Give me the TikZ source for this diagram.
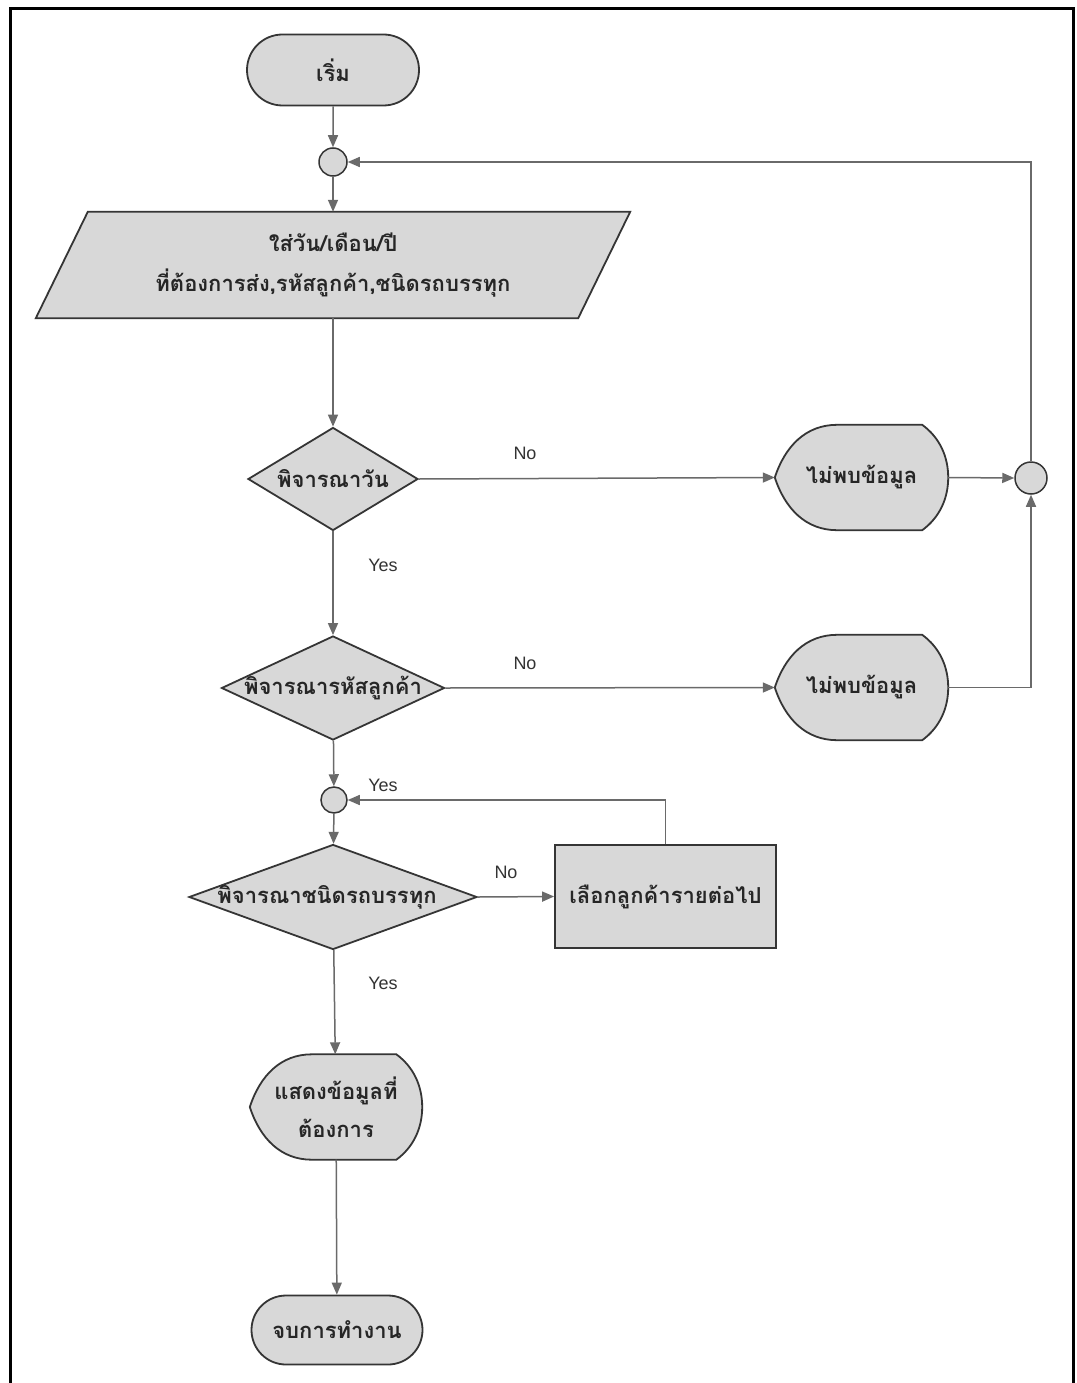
\documentclass[tikz,border=0pt]{standalone}
\usepackage{fontspec}
\newfontfamily\thaifont[Script=Thai]{Loma}
\setsansfont{Liberation Sans}
\usetikzlibrary{shapes.geometric,shapes.misc,arrows.meta,calc}
\pgfdeclarelayer{bg}
\pgfsetlayers{bg,main}

% fractional position inside a node box (used by the display shape)
\newcommand\fcx[1]{\x1+#1*(\x2-\x1)}
\newcommand\fcy[1]{0.5*\y1+0.5*\y2+#1*(\y1-\y2)}
% flowchart "display" outline drawn behind a named node
\newcommand\dispshape[1]{%
  \path[shapeframe] let \p1=(#1.north west), \p2=(#1.south east) in
    ({\x1},{\fcy{0}})
    .. controls ({\fcx{0.06}},{\fcy{0.30}}) and ({\fcx{0.18}},{\fcy{0.5}}) .. ({\fcx{0.36}},{\fcy{0.5}})
    -- ({\fcx{0.85}},{\fcy{0.5}})
    .. controls ({\fcx{0.95}},{\fcy{0.38}}) and ({\x2},{\fcy{0.2}}) .. ({\x2},{\fcy{0}})
    .. controls ({\x2},{\fcy{-0.2}}) and ({\fcx{0.95}},{\fcy{-0.38}}) .. ({\fcx{0.85}},{\fcy{-0.5}})
    -- ({\fcx{0.36}},{\fcy{-0.5}})
    .. controls ({\fcx{0.18}},{\fcy{-0.5}}) and ({\fcx{0.06}},{\fcy{-0.30}}) .. cycle;}

\definecolor{boxfill}{HTML}{D8D8D8}
\definecolor{boxline}{HTML}{353535}
\definecolor{wire}{HTML}{6A6A6A}

\tikzset{
  thai/.style={font=\thaifont\bfseries\fontsize{22}{26}\selectfont, text=black!85},
  shapeframe/.style={draw=boxline, fill=boxfill, line width=1.8pt},
  terminal/.style={shape=rounded rectangle, shapeframe, thai, inner sep=0pt},
  decision/.style={shape=diamond, shapeframe, inner sep=0pt},
  procbox/.style={shape=rectangle, shapeframe, thai, inner sep=0pt},
  joint/.style={shape=circle, shapeframe, line width=1.5pt, minimum size=28pt, inner sep=0pt},
  textbox/.style={shape=rectangle, draw=none, inner sep=0pt, thai, align=center},
  wirearrow/.style={draw=wire, line width=1.5pt, -{Triangle[length=12pt,width=10pt]}},
  yesno/.style={font=\sffamily\fontsize{18}{21}\selectfont, text=black!80},
}

\begin{document}
\begin{tikzpicture}[x=1pt, y=-1pt]
  \useasboundingbox (0,0) rectangle (1076,1383);
  \begin{pgfonlayer}{bg}
    \fill[white] (0,0) rectangle (1076,1383);
  \end{pgfonlayer}
  % page frame (its bottom edge lies below the picture)
  \draw[black, line width=3pt] (10,1400) -- (10,9) -- (1073,9) -- (1073,1400);

  % nodes
  \node[terminal, minimum width=172pt, minimum height=71pt] (start) at (333,70) {เริ่ม};
  \node[joint] (c1) at (333,162) {};
  \node[textbox, minimum width=542pt, minimum height=106pt] (io) at (333,265)
    {ใส่วัน/เดือน/ปี\\[14pt]ที่ต้องการส่ง,รหัสลูกค้า,ชนิดรถบรรทุก};
  \node[decision, minimum width=170pt, minimum height=103pt,
        label={[thai]center:พิจารณาวัน}] (d1) at (333,479) {};
  \node[decision, minimum width=223pt, minimum height=104pt,
        label={[thai]center:พิจารณารหัสลูกค้า}] (d2) at (333,688) {};
  \node[joint, minimum size=26pt] (c2) at (334,800) {};
  \node[decision, minimum width=288pt, minimum height=105pt,
        label={[thai,xshift=-6pt]center:พิจารณาชนิดรถบรรทุก}] (d3) at (333,897) {};
  \node[procbox, minimum width=221pt, minimum height=103pt] (next) at (665.5,896.5) {เลือกลูกค้ารายต่อไป};
  \node[textbox, minimum width=173pt, minimum height=105pt] (nf1) at (861.5,477.5) {ไม่พบข้อมูล};
  \node[textbox, minimum width=173pt, minimum height=105pt] (nf2) at (861.5,687.5) {ไม่พบข้อมูล};
  \node[joint, minimum size=32pt] (c3) at (1031,478) {};
  \node[textbox, minimum width=172pt, minimum height=105pt] (show) at (336,1107)
    {แสดงข้อมูลที่\\[12pt]ต้องการ};
  \node[terminal, minimum width=171pt, minimum height=69pt] (stop) at (337,1330) {จบการทำงาน};

  % outlines drawn behind their text nodes
  \begin{pgfonlayer}{bg}
    \path[shapeframe] ([xshift=26pt]io.north west) -- ([xshift=26pt]io.north east)
      -- ([xshift=-26pt]io.south east) -- ([xshift=-26pt]io.south west) -- cycle;
    \dispshape{nf1}
    \dispshape{nf2}
    \dispshape{show}
  \end{pgfonlayer}

  % connectors
  \draw[wirearrow] (start) -- (c1);
  \draw[wirearrow] (c1) -- (io);
  \draw[wirearrow] (io) -- (d1);
  \draw[wirearrow] (d1) -- (d2);
  \draw[wirearrow] (d2) -- (c2);
  \draw[wirearrow] (c2) -- (d3);
  \draw[wirearrow] (d3) -- (show);
  \draw[wirearrow] (show) -- (stop);
  \draw[wirearrow] (d1.east) -- (nf1.west);
  \draw[wirearrow] (d2.east) -- (nf2.west);
  \draw[wirearrow] (d3.east) -- (next.west);
  \draw[wirearrow] (nf1.east) -- (c3.west);
  \draw[wirearrow] (nf2.east) -| (c3.south);
  \draw[wirearrow] (c3.north) |- (c1.east);
  \draw[wirearrow] (next.north) |- (c2.east);

  % branch labels
  \node[yesno] (no1) at (525,453) {No};
  \node[yesno] (yes1) at (383,565) {Yes};
  \node[yesno] (no2) at (525,663) {No};
  \node[yesno] (yes2) at (383,785) {Yes};
  \node[yesno] (no3) at (506,872) {No};
  \node[yesno] (yes3) at (383,983) {Yes};
\end{tikzpicture}
\end{document}
